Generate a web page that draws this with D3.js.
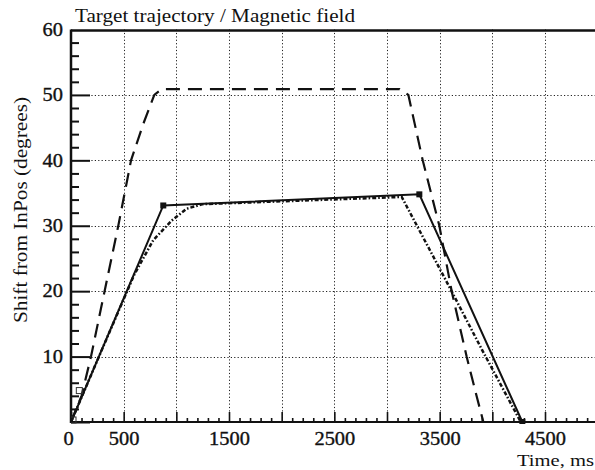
<!DOCTYPE html>
<html><head><meta charset="utf-8">
<script src="https://cdn.jsdelivr.net/npm/d3@7"></script>
<style>
html,body{margin:0;padding:0;background:#fff;}
svg{display:block;}
text{font-family:"Liberation Serif","DejaVu Serif",serif;fill:#111;}
</style></head>
<body>
<svg id="chart" width="595" height="470"></svg>
<script>
// ---- data ----
const title = "Target trajectory / Magnetic field";
const yLabel = "Shift from InPos (degrees)";
const xLabel = "Time, ms";
const xTickLabels = [0, 500, 1500, 2500, 3500, 4500];
const yTickLabels = [10, 20, 30, 40, 50, 60];
const gridX = [500, 1000, 1500, 2000, 2500, 3000, 3500, 4000, 4500];
const gridY = [10, 20, 30, 40, 50];

// target trajectory (long dashed)
const targetT = [0, 100, 190, 280, 449, 570, 687, 791, 861, 3120, 3203, 3339, 3497, 3614, 3756, 3850, 3915];
const targetV = [0, 4, 10, 17, 30, 40, 45.6, 50, 50.9, 50.9, 50, 40, 30, 20, 10, 4, 0];

// magnetic field (solid)
const fieldT = [0, 876, 3307, 4285];
const fieldV = [0, 33.1, 34.8, 0];

// response (dash-dot)
const respT = [0, 300, 600, 781, 956, 1098, 1250, 3140, 3600, 3900, 4270];
const respV = [0, 11.3, 22.5, 27.8, 30.8, 32.6, 33.3, 34.4, 20.4, 11.1, 0];

// ---- drawing ----
(function () {
const svg = d3.select("#chart");
const x = d3.scaleLinear().domain([0, 4500]).range([71, 545]);
const y = d3.scaleLinear().domain([0, 60]).range([422, 29.5]);
const pL = x(0), pR = 595, pT = y(60), pB = y(0);
const FS = 18, DIGIT = 10.2;

// grid
const grid = svg.append("g").attr("stroke", "#222").attr("stroke-width", 1).attr("stroke-dasharray", "1.2,2.2");
grid.selectAll("line.gx").data(gridX).join("line").attr("class","gx")
  .attr("x1", d => Math.round(x(d)) + 0.5).attr("x2", d => Math.round(x(d)) + 0.5)
  .attr("y1", pT).attr("y2", pB);
grid.selectAll("line.gy").data(gridY).join("line").attr("class","gy")
  .attr("y1", d => Math.round(y(d)) + 0.5).attr("y2", d => Math.round(y(d)) + 0.5)
  .attr("x1", pL).attr("x2", pR);

// x axis ticks (inward)
const xMinor = d3.range(0, 5000, 100).filter(d => d % 500 !== 0);
const xMajor = d3.range(0, 5000, 500);
const gxMinor = svg.append("g").attr("transform", `translate(0,${pB})`)
  .call(d3.axisBottom(x).tickValues(xMinor).tickSize(-4).tickFormat(""));
const gxMajor = svg.append("g").attr("transform", `translate(0,${pB})`)
  .call(d3.axisBottom(x).tickValues(xMajor).tickSize(-10).tickFormat(""));
const gxLab = svg.append("g").attr("transform", `translate(0,${pB})`)
  .call(d3.axisBottom(x).tickValues(xTickLabels).tickSize(0).tickPadding(10).tickFormat(d3.format("d")));
[gxMinor, gxMajor, gxLab].forEach(g => { g.select(".domain").remove(); g.selectAll("line").attr("stroke","#111").attr("stroke-width",1.6); });
gxLab.selectAll("text").attr("font-size", FS).attr("font-family", '"Liberation Serif",serif').attr("fill","#111")
  .attr("stroke","#111").attr("stroke-width",0.35)
  .attr("textLength", d => String(d).length * DIGIT).attr("lengthAdjust","spacingAndGlyphs")
  .attr("dx", d => d === 0 ? -3 : 0);

// y axis ticks (inward)
const yMinor = d3.range(2, 60, 2).filter(d => d % 10 !== 0);
const yMajor = [0, 10, 20, 30, 40, 50];
const gyMinor = svg.append("g").attr("transform", `translate(${pL},0)`)
  .call(d3.axisLeft(y).tickValues(yMinor).tickSize(-8).tickFormat(""));
const gyMajor = svg.append("g").attr("transform", `translate(${pL},0)`)
  .call(d3.axisLeft(y).tickValues(yMajor).tickSize(-19).tickFormat(""));
const gyLab = svg.append("g").attr("transform", `translate(${pL},0)`)
  .call(d3.axisLeft(y).tickValues(yTickLabels).tickSize(0).tickPadding(8).tickFormat(d3.format("d")));
[gyMinor, gyMajor, gyLab].forEach(g => { g.select(".domain").remove(); g.selectAll("line").attr("stroke","#111").attr("stroke-width",2); });
gyLab.selectAll("text").attr("font-size", FS).attr("font-family", '"Liberation Serif",serif').attr("fill","#111")
  .attr("stroke","#111").attr("stroke-width",0.35)
  .attr("textLength", d => String(d).length * DIGIT).attr("lengthAdjust","spacingAndGlyphs");

// frame lines
svg.append("line").attr("x1", pL).attr("x2", pR).attr("y1", pB).attr("y2", pB).attr("stroke","#111").attr("stroke-width",2);
svg.append("line").attr("x1", pL).attr("x2", pR).attr("y1", pT + 1).attr("y2", pT + 1).attr("stroke","#111").attr("stroke-width",2.5);
svg.append("line").attr("x1", pL).attr("x2", pL).attr("y1", pT).attr("y2", pB + 1).attr("stroke","#111").attr("stroke-width",2.5);

// series
svg.append("clipPath").attr("id","clip").append("rect")
  .attr("x", pL).attr("y", pT).attr("width", pR - pL).attr("height", pB - pT + 2);
const line = d3.line().x(d => x(d[0])).y(d => y(d[1]));
const plot = svg.append("g").attr("clip-path","url(#clip)");
const zip = (a, b) => a.map((t, i) => [t, b[i]]);

plot.append("path").datum(zip(targetT, targetV)).attr("d", line)
  .attr("fill","none").attr("stroke","#111").attr("stroke-width",2.2).attr("stroke-dasharray","14,8");
plot.append("path").datum(zip(respT, respV)).attr("d", line)
  .attr("fill","none").attr("stroke","#111").attr("stroke-width",2.5).attr("stroke-dasharray","4,2,1.6,2");
plot.append("path").datum(zip(fieldT, fieldV)).attr("d", line)
  .attr("fill","none").attr("stroke","#111").attr("stroke-width",2);

// markers on field corners
const corners = zip(fieldT, fieldV).slice(1);
plot.selectAll("rect.mk").data(corners).join("rect").attr("class","mk")
  .attr("x", d => x(d[0]) - 3).attr("y", d => y(d[1]) - 3).attr("width", 6).attr("height", 6).attr("fill","#111");
// open squares near origin
plot.selectAll("rect.om").data([[0,0],[60,4.5]]).join("rect").attr("class","om")
  .attr("x", d => x(d[0]) - 1).attr("y", d => y(d[1]) - 5).attr("width", 6).attr("height", 6)
  .attr("fill","none").attr("stroke","#333").attr("stroke-width",1);

// texts
svg.append("text").attr("x", 75).attr("y", 22).attr("font-size", 18)
  .attr("textLength", 280).attr("lengthAdjust","spacingAndGlyphs").text(title);
svg.append("text").attr("transform", `translate(27,210) rotate(-90)`)
  .attr("text-anchor","middle").attr("font-size", 18)
  .attr("textLength", 226).attr("lengthAdjust","spacingAndGlyphs").text(yLabel);
svg.append("text").attr("x", 594).attr("y", 466).attr("text-anchor","end").attr("font-size", 16)
  .attr("textLength", 77).attr("lengthAdjust","spacingAndGlyphs").text(xLabel);
})();
</script>
</body></html>
